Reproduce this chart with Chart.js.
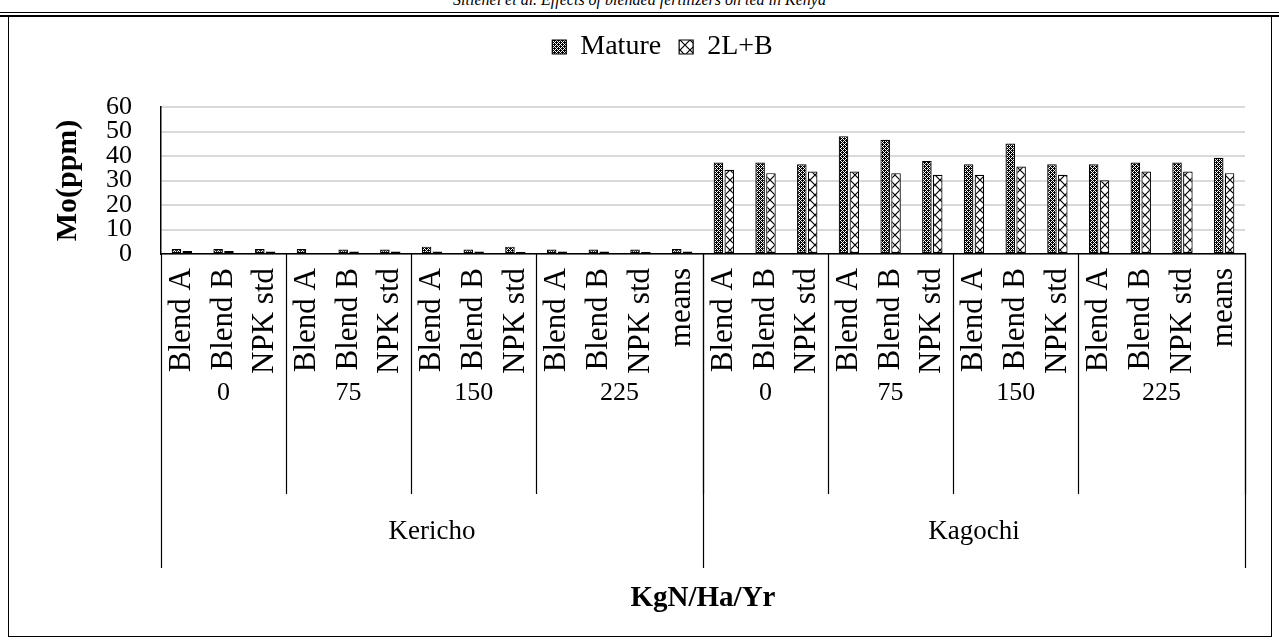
<!DOCTYPE html>
<html>
<head>
<meta charset="utf-8">
<script src="https://cdn.jsdelivr.net/npm/chart.js@4"></script>
<style>
  html, body { margin: 0; padding: 0; background: #fff; }
  #wrap { position: relative; width: 1279px; height: 640px; overflow: hidden; }
  #header {
    position: absolute; left: 0; width: 1279px; top: -9px; text-align: center;
    font: italic 16px 'Liberation Serif', serif; color: #000;
  }
  #rule1 { position: absolute; left: 0; top: 12px; width: 1279px; height: 1px; background: #000; }
  #rule2 { position: absolute; left: 0; top: 15px; width: 1279px; height: 2px; background: #000; }
  #frame {
    position: absolute; left: 8px; top: 17px; width: 1264px; height: 620px;
    border: 1px solid #000; border-top: none; box-sizing: border-box;
  }
  canvas { position: absolute; left: 0; top: 0; }
</style>
</head>
<body>
<div id="wrap">
  <div id="header">Sitienei et al. Effects of blended fertilizers on tea in Kenya</div>
  <div id="rule1"></div>
  <div id="rule2"></div>
  <div id="frame"></div>
  <canvas id="chart" width="1279" height="640"></canvas>
</div>
<script>
// x categories, level 1 (treatment), level 2 (N rate), level 3 (site)
const treatments = [
  'Blend A', 'Blend B', 'NPK std', 'Blend A', 'Blend B', 'NPK std',
  'Blend A', 'Blend B', 'NPK std', 'Blend A', 'Blend B', 'NPK std', 'means',
  'Blend A', 'Blend B', 'NPK std', 'Blend A', 'Blend B', 'NPK std',
  'Blend A', 'Blend B', 'NPK std', 'Blend A', 'Blend B', 'NPK std', 'means'
];
const nRates = ['0', '75', '150', '225', '0', '75', '150', '225'];
const nRateSizes = [3, 3, 3, 4, 3, 3, 3, 4];
const sites = ['Kericho', 'Kagochi'];
const siteSizes = [13, 13];

// Mo (ppm)
const matureValues = [
  2.0, 2.0, 2.0, 2.0, 1.8, 1.8, 3.0, 1.8, 3.0, 1.8, 1.8, 1.8, 2.0,
  37.3, 37.3, 36.6, 48.1, 46.6, 38.0, 36.6, 45.1, 36.6, 36.6, 37.3, 37.3, 39.3
];
const twoLBValues = [
  1.2, 1.2, 1.0, 0.3, 1.0, 1.0, 1.0, 1.0, 0.8, 1.0, 1.0, 0.8, 1.0,
  34.4, 33.0, 33.7, 33.7, 33.0, 32.3, 32.3, 35.7, 32.3, 30.1, 33.7, 33.7, 33.0
];

const yTicks = [0, 10, 20, 30, 40, 50, 60];

const FONT = "'Liberation Serif', 'Times New Roman', serif";
Chart.defaults.font.family = FONT;
Chart.defaults.color = '#000';

// fill patterns like the excel ones
function crossHatch() {
  const c = document.createElement('canvas');
  c.width = 4; c.height = 4;
  const g = c.getContext('2d');
  g.fillStyle = '#000';
  g.fillRect(0, 0, 4, 4);
  g.fillStyle = '#fff';
  [[1,1],[3,1],[1,3],[3,3],[0,0],[2,2]].forEach(p => g.fillRect(p[0], p[1], 1, 1));
  return g.createPattern(c, 'repeat');
}

function bigCross() {
  const c = document.createElement('canvas');
  c.width = 10; c.height = 10;
  const g = c.getContext('2d');
  g.fillStyle = '#fff';
  g.fillRect(0, 0, 10, 10);
  g.strokeStyle = '#000';
  g.lineWidth = 1.2;
  g.beginPath();
  g.moveTo(0, 0); g.lineTo(10, 10);
  g.moveTo(10, 0); g.lineTo(0, 10);
  g.stroke();
  return g.createPattern(c, 'repeat');
}

const tierPlugin = {
  id: 'tiers',
  afterLayout(chart) {
    // legend sits right of centre and higher than the default slot
    const lg = chart.legend;
    lg.left += 40;
    lg.right += 40;
    lg.top -= 36;
    lg.bottom -= 36;
  },
  afterDraw(chart) {
    const xs = chart.scales.x;
    const ctx = chart.ctx;
    const n = treatments.length;
    const edge = i => {
      if (i <= 0) return xs.left;
      if (i >= n) return xs.right;
      return (xs.getPixelForValue(i - 1) + xs.getPixelForValue(i)) / 2;
    };
    const top = xs.top;
    ctx.save();
    ctx.strokeStyle = '#000';
    ctx.lineWidth = 1.2;
    ctx.fillStyle = '#000';
    ctx.textAlign = 'center';
    ctx.textBaseline = 'middle';

    // N rate tier
    ctx.font = '26px ' + FONT;
    let start = 0;
    nRates.forEach((lab, k) => {
      const end = start + nRateSizes[k];
      const a = edge(start), b = edge(end);
      ctx.beginPath();
      ctx.moveTo(Math.round(b) + 0.5, top);
      ctx.lineTo(Math.round(b) + 0.5, 494);
      ctx.stroke();
      ctx.fillText(lab, (a + b) / 2, 393);
      start = end;
    });

    // site tier
    ctx.font = '27px ' + FONT;
    start = 0;
    ctx.beginPath();
    ctx.moveTo(Math.round(edge(0)) + 0.5, top);
    ctx.lineTo(Math.round(edge(0)) + 0.5, 568);
    ctx.stroke();
    sites.forEach((lab, k) => {
      const end = start + siteSizes[k];
      const a = edge(start), b = edge(end);
      ctx.beginPath();
      ctx.moveTo(Math.round(b) + 0.5, top);
      ctx.lineTo(Math.round(b) + 0.5, 568);
      ctx.stroke();
      ctx.fillText(lab, (a + b) / 2, 532);
      start = end;
    });
    ctx.restore();
  }
};

new Chart(document.getElementById('chart'), {
  type: 'bar',
  data: {
    labels: treatments,
    datasets: [
      {
        label: 'Mature',
        data: matureValues,
        backgroundColor: crossHatch(),
        borderColor: '#000',
        borderWidth: 1.2,
        borderSkipped: false,
        categoryPercentage: 0.52,
        barPercentage: 0.88
      },
      {
        label: '2L+B',
        data: twoLBValues,
        backgroundColor: bigCross(),
        borderColor: '#000',
        borderWidth: 1.2,
        borderSkipped: false,
        categoryPercentage: 0.52,
        barPercentage: 0.88
      }
    ]
  },
  options: {
    responsive: false,
    animation: false,
    layout: { padding: { left: 0, right: 34, top: 51, bottom: 0 } },
    plugins: {
      legend: {
        position: 'top',
        labels: {
          font: { size: 28 },
          boxWidth: 14,
          boxHeight: 14,
          padding: 18
        }
      },
      tooltip: { enabled: false }
    },
    scales: {
      x: {
        afterFit(scale) { scale.height = 386; },
        grid: { display: false, drawTicks: false },
        border: { display: true, color: '#000', width: 1.5 },
        ticks: {
          autoSkip: false,
          minRotation: 90,
          maxRotation: 90,
          padding: 14,
          font: { size: 31 }
        },
        title: {
          display: true,
          text: 'KgN/Ha/Yr',
          font: { size: 29, weight: 'bold' },
          padding: { top: 0, bottom: 24 }
        }
      },
      y: {
        min: 0,
        max: 60,
        afterFit(scale) { scale.width = 161; },
        afterBuildTicks(scale) { scale.ticks = yTicks.map(v => ({ value: v })); },
        grid: { color: '#d9d9d9', lineWidth: 2, drawTicks: false },
        border: { display: true, color: '#000', width: 1.5 },
        ticks: { autoSkip: false, padding: 29, font: { size: 26 } },
        title: {
          display: true,
          text: 'Mo(ppm)',
          font: { size: 30, weight: 'bold' },
          padding: { top: 50, bottom: 0 }
        }
      }
    }
  },
  plugins: [tierPlugin]
});
</script>
</body>
</html>
